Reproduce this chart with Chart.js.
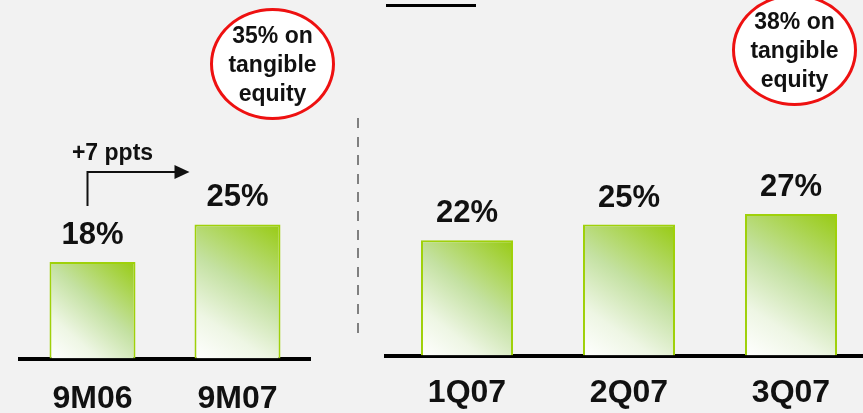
<!DOCTYPE html>
<html>
<head>
<meta charset="utf-8">
<script src="https://cdn.jsdelivr.net/npm/chart.js@4/dist/chart.umd.min.js"></script>
<style>
  html, body { margin: 0; padding: 0; background: #f2f2f2; width: 863px; height: 413px; overflow: hidden; position: relative; font-family: "Liberation Sans", Arial, sans-serif; }
  canvas { position: absolute; top: 0; }
  #left { left: 0; }
  #right { left: 366px; }
  .bubble { position: absolute; width: 125px; height: 112px; box-sizing: border-box; border: 3px solid #ee1111; border-radius: 50%; background: #fff;
    display: flex; align-items: center; justify-content: center; text-align: center; font-weight: bold; font-size: 23px; line-height: 29px; color: #111; }
  #title { position: absolute; left: 386px; top: -23px; width: 90px; height: 30px; box-sizing: border-box; border-bottom: 3px solid #000;
    text-align: center; font-weight: bold; font-size: 26px; line-height: 27px; color: #111; }
  #divider { position: absolute; left: 357px; top: 118px; width: 2px; height: 218px;
    background: repeating-linear-gradient(to bottom, #808080 0 10px, transparent 10px 18.6px); }
</style>
</head>
<body>
<div id="title">ROE</div>
<div id="divider"></div>
<canvas id="left" width="330" height="439"></canvas>
<canvas id="right" width="520" height="430"></canvas>
<div class="bubble" style="left:210px; top:8px;">35% on<br>tangible<br>equity</div>
<div class="bubble" style="left:732px; top:-6px;">38% on<br>tangible<br>equity</div>
<script>
(function () {

  var leftLabels = ['9M06', '9M07'];
  var leftValues = [18, 25];
  var rightLabels = ['1Q07', '2Q07', '3Q07'];
  var rightValues = [22, 25, 27];
  var arrowText = '+7 ppts';

  var tickFont = { family: 'Liberation Sans', size: 32, weight: 'bold' };
  var valueFont = 'bold 31px "Liberation Sans"';

  // diagonal green fill: white at bottom-left, bright green at top-right
  var barFill = function (c) {
    var chart = c.chart;
    var xs = chart.scales.x, ys = chart.scales.y;
    if (!chart.chartArea || !xs || !ys || c.dataIndex === undefined) return '#c4e1a2';
    var pct = c.dataset.barPercentage;
    var half = (chart.chartArea.width / chart.data.labels.length) * pct / 2;
    var x = xs.getPixelForValue(c.dataIndex);
    var top = ys.getPixelForValue(c.raw);
    var base = ys.getPixelForValue(0);
    var g = chart.ctx.createLinearGradient(x - half, base, x + half, top);
    g.addColorStop(0, '#ffffff');
    g.addColorStop(0.25, '#eef6e4');
    g.addColorStop(0.55, '#c4e1a2');
    g.addColorStop(1, '#98cb12');
    return g;
  };

  var valueLabels = {
    id: 'valueLabels',
    afterDatasetsDraw: function (chart) {
      var ctx = chart.ctx;
      var values = chart.data.datasets[0].data;
      ctx.save();
      ctx.font = valueFont;
      ctx.fillStyle = '#111';
      ctx.textAlign = 'center';
      ctx.textBaseline = 'alphabetic';
      chart.getDatasetMeta(0).data.forEach(function (bar, i) {
        ctx.fillText(values[i] + '%', bar.x, bar.y - 18);
      });
      ctx.restore();
    }
  };

  // "+7 ppts" elbow arrow between the two left bars
  var growthArrow = {
    id: 'growthArrow',
    afterDatasetsDraw: function (chart) {
      var bars = chart.getDatasetMeta(0).data;
      var ctx = chart.ctx;
      var x0 = bars[0].x - 5;
      var yLow = bars[0].y - 56;
      var yHigh = yLow - 34;
      var x1 = bars[1].x - 48;
      ctx.save();
      ctx.strokeStyle = '#111';
      ctx.fillStyle = '#111';
      ctx.lineWidth = 2;
      ctx.beginPath();
      ctx.moveTo(x0, yLow);
      ctx.lineTo(x0, yHigh);
      ctx.lineTo(x1 - 14, yHigh);
      ctx.stroke();
      ctx.beginPath();
      ctx.moveTo(x1, yHigh);
      ctx.lineTo(x1 - 15, yHigh - 7);
      ctx.lineTo(x1 - 15, yHigh + 7);
      ctx.closePath();
      ctx.fill();
      ctx.font = 'bold 23px "Liberation Sans"';
      ctx.textAlign = 'center';
      ctx.fillText(arrowText, x0 + 25, yHigh - 12);
      ctx.restore();
    }
  };

  var makeChart = function (id, labels, values, pad, barPct, tickPad, extra) {
    return new Chart(document.getElementById(id), {
      type: 'bar',
      data: {
        labels: labels,
        datasets: [{
          data: values,
          backgroundColor: barFill,
          borderColor: '#9fd10a',
          borderWidth: 2,
          categoryPercentage: 1,
          barPercentage: barPct
        }]
      },
      options: {
        responsive: false,
        animation: false,
        devicePixelRatio: 1,
        layout: { padding: pad },
        plugins: { legend: { display: false }, tooltip: { enabled: false } },
        scales: {
          x: {
            z: 1,
            grid: { display: false, drawTicks: false },
            border: { display: true, color: '#000', width: 4 },
            ticks: { color: '#111', font: tickFont, padding: tickPad }
          },
          y: { display: false, min: 0, max: 40 }
        }
      },
      plugins: [valueLabels].concat(extra)
    });
  };

  makeChart('left', leftLabels, leftValues, { left: 20, right: 20, top: 144, bottom: 0 }, 0.593, 21, [growthArrow]);
  makeChart('right', rightLabels, rightValues, { left: 20, right: 14, top: 146, bottom: 0 }, 0.568, 18, []);

})();
</script>
</body>
</html>
